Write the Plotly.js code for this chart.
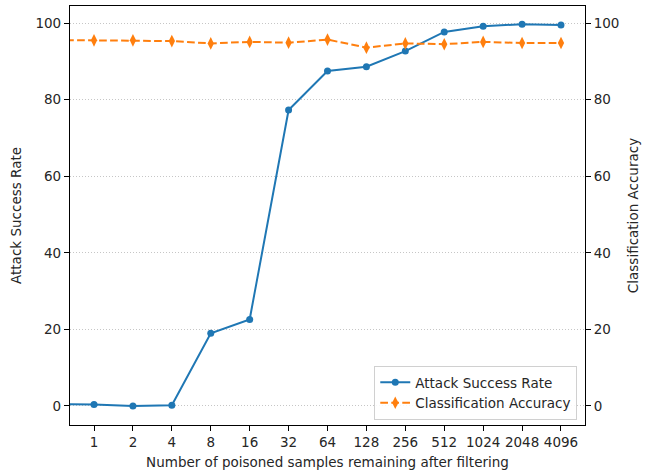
<!DOCTYPE html>
<html>
<head>
<meta charset="utf-8">
<script src="https://cdn.plot.ly/plotly-3.0.1.min.js"></script>
<style>html,body{margin:0;padding:0;background:#fff;}#chart{width:651px;height:471px;}</style>
</head>
<body>
<div id="chart"></div>
<script>
// Categories: number of poisoned samples remaining after filtering
const categories = ["0", "1", "2", "4", "8", "16", "32", "64", "128", "256", "512", "1024", "2048", "4096"];
const tickLabels = ["1", "2", "4", "8", "16", "32", "64", "128", "256", "512", "1024", "2048", "4096"];
// Attack Success Rate (%)
const attackSuccessRate = [0.5, 0.4, 0.0, 0.2, 19.0, 22.6, 77.3, 87.5, 88.6, 92.7, 97.7, 99.2, 99.7, 99.5];
// Classification Accuracy (%)
const classificationAccuracy = [95.6, 95.5, 95.5, 95.3, 94.7, 95.1, 94.9, 95.7, 93.6, 94.7, 94.5, 95.1, 94.8, 94.8];

const font = {family: "DejaVu Sans, sans-serif", size: 13.5, color: "#262626"};

const traces = [
  {
    x: categories, y: attackSuccessRate, name: "Attack Success Rate",
    type: "scatter", mode: "lines+markers",
    line: {color: "#1f77b4", width: 2},
    marker: {color: "#1f77b4", size: 7, symbol: "circle"},
    xaxis: "x", yaxis: "y", cliponaxis: true
  },
  {
    x: categories, y: classificationAccuracy, name: "Classification Accuracy",
    type: "scatter", mode: "lines+markers",
    line: {color: "#ff7f0e", width: 2, dash: "7.7px,3.3px"},
    marker: {color: "#ff7f0e", size: 9, symbol: "diamond-tall"},
    xaxis: "x", yaxis: "y2", cliponaxis: true
  }
];

const yRange = [-4.975, 104.475];

const layout = {
  width: 651, height: 471,
  margin: {l: 70, r: 66, t: 6, b: 46, pad: 0},
  paper_bgcolor: "#fff", plot_bgcolor: "#fff",
  font: font,
  showlegend: true,
  legend: {
    x: 0.985, y: 0.012, xanchor: "right", yanchor: "bottom",
    bgcolor: "rgba(255,255,255,0.85)", bordercolor: "#d0d0d0", borderwidth: 1,
    font: font, tracegroupgap: 0, itemwidth: 30
  },
  xaxis: {
    type: "category",
    categoryorder: "array", categoryarray: categories,
    range: [0.383, 13.617],
    tickmode: "array", tickvals: tickLabels, ticktext: tickLabels,
    ticks: "outside", ticklen: 5, tickwidth: 1, tickcolor: "#000",
    showline: true, linecolor: "#000", linewidth: 1.1, mirror: true,
    showgrid: false, zeroline: false,
    tickfont: font,
    title: {text: "Number of poisoned samples remaining after filtering", font: font, standoff: 8}
  },
  yaxis: {
    range: yRange,
    tickmode: "array", tickvals: [0, 20, 40, 60, 80, 100],
    ticks: "outside", ticklen: 5, tickwidth: 1, tickcolor: "#000",
    showline: true, linecolor: "#000", linewidth: 1.1, mirror: true,
    showgrid: true, gridcolor: "#b8b8b8", gridwidth: 0.8, griddash: "1px,2px",
    zeroline: false,
    tickfont: font,
    title: {text: "Attack Success Rate", font: font, standoff: 10}
  },
  yaxis2: {
    overlaying: "y", side: "right",
    range: yRange,
    tickmode: "array", tickvals: [0, 20, 40, 60, 80, 100],
    ticks: "outside", ticklen: 5, tickwidth: 1, tickcolor: "#000",
    showline: false, showgrid: false, zeroline: false,
    tickfont: font,
    title: {text: "Classification Accuracy", font: font, standoff: 10}
  }
};

Plotly.newPlot("chart", traces, layout, {displayModeBar: false, staticPlot: true});
</script>
</body>
</html>
